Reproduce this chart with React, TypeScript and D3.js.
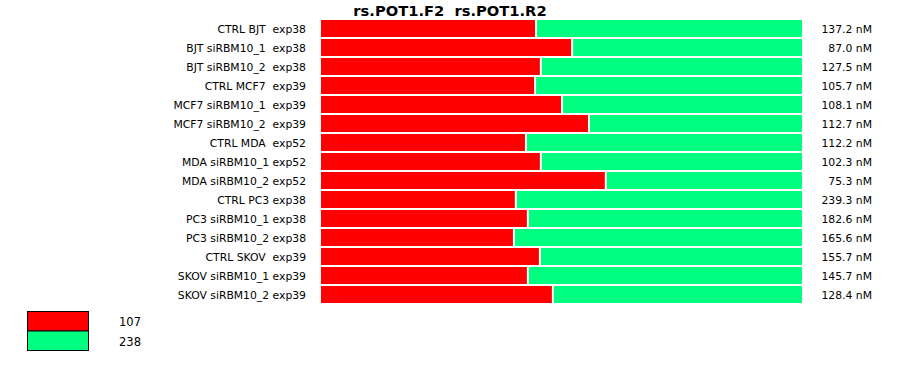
import React from "react";
import * as d3 from "d3";

const title = "rs.POT1.F2  rs.POT1.R2";
const categories = [
  "CTRL BJT  exp38",
  "BJT siRBM10_1  exp38",
  "BJT siRBM10_2  exp38",
  "CTRL MCF7  exp39",
  "MCF7 siRBM10_1  exp39",
  "MCF7 siRBM10_2  exp39",
  "CTRL MDA  exp52",
  "MDA siRBM10_1 exp52",
  "MDA siRBM10_2 exp52",
  "CTRL PC3 exp38",
  "PC3 siRBM10_1 exp38",
  "PC3 siRBM10_2 exp38",
  "CTRL SKOV  exp39",
  "SKOV siRBM10_1 exp39",
  "SKOV siRBM10_2 exp39",
];
// share (%) of the red (107) channel per row
const redShare = [44.5, 52.0, 45.5, 44.3, 49.9, 55.5, 42.4, 45.5, 59.0, 40.3, 42.8, 39.9, 45.3, 42.8, 48.0];
const concentrations = ["137.2 nM", "87.0 nM", "127.5 nM", "105.7 nM", "108.1 nM", "112.7 nM", "112.2 nM", "102.3 nM", "75.3 nM", "239.3 nM", "182.6 nM", "165.6 nM", "155.7 nM", "145.7 nM", "128.4 nM"];
const legendLabels = ["107", "238"];
const colors = ["#ff0000", "#00ff80"];

const W = 900;
const H = 375;
const FONT = "'DejaVu Sans', Verdana, sans-serif";

export default function App() {
  const x = d3.scaleLinear().domain([0, 100]).range([321, 802]);
  const bh = 17;
  return (
    <svg width={W} height={H} style={{ position: "absolute", left: 0, top: 0, background: "#fff" }} fontFamily={FONT}>
      <text x={450} y={16} textAnchor="middle" fontSize={14.7} fontWeight="bold" fill="#000" style={{ whiteSpace: "pre" }}>
        {title}
      </text>
      {categories.map((c, i) => {
        const y0 = 20 + 19 * i;
        const xe = x(redShare[i]);
        return (
          <g key={i}>
            <text x={306} y={y0 + 12.5} textAnchor="end" fontSize={10.8} fill="#000" style={{ whiteSpace: "pre" }}>
              {c}
            </text>
            <rect x={x(0)} y={y0} width={xe - x(0)} height={bh} fill={colors[0]} />
            <rect x={xe + 2} y={y0} width={x(100) - xe - 2} height={bh} fill={colors[1]} />
            <text x={872} y={y0 + 12.5} textAnchor="end" fontSize={10.8} fill="#000">
              {concentrations[i]}
            </text>
          </g>
        );
      })}
      {legendLabels.map((l, i) => (
        <g key={l}>
          <rect x={27.5} y={311.5 + 19.5 * i} width={61} height={19.5} fill={colors[i]} stroke="#000" strokeWidth={1} />
          <text x={119} y={326 + 20 * i} fontSize={11.5} fill="#000">
            {l}
          </text>
        </g>
      ))}
    </svg>
  );
}
